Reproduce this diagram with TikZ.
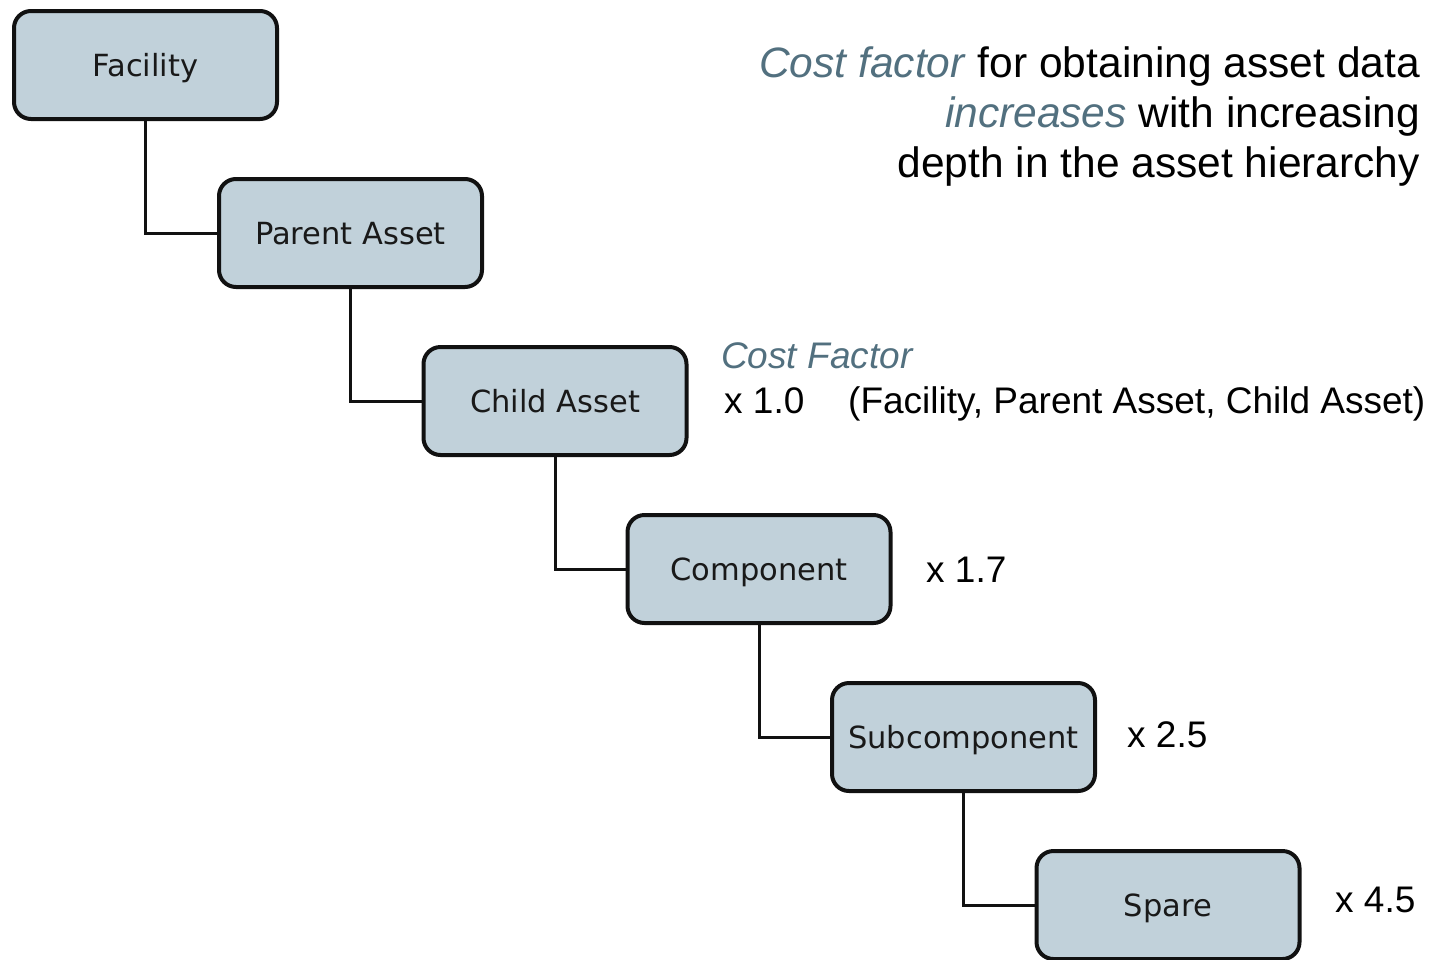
\documentclass[tikz,border=0pt]{standalone}
\usepackage{fontspec}
\setmainfont{Liberation Sans}
\newfontfamily\boxfont{DejaVu Sans}
\definecolor{boxfill}{HTML}{C1D1DA}
\definecolor{boxline}{HTML}{111111}
\definecolor{accent}{HTML}{52707F}
\begin{document}
\begin{tikzpicture}[x=1pt,y=-1pt,
  level/.style={draw=boxline, line width=4pt, fill=boxfill, rounded corners=17pt,
    minimum width=263pt, minimum height=108pt, inner sep=0pt,
    text height=22pt, text depth=0pt, text=black!90,
    font=\boxfont\fontsize{30.5}{36}\selectfont},
  link/.style={draw=boxline, line width=3pt},
  factor/.style={anchor=base west, inner sep=0pt, font=\fontsize{37}{43}\selectfont},
  note/.style={anchor=base east, inner sep=0pt, font=\fontsize{42.5}{50}\selectfont},
  hl/.style={text=accent}]
\useasboundingbox (0,0) rectangle (1429,959);

% hierarchy boxes
\node[level] (fac) at (145.5,65) {Facility};
\node[level] (par) at (350.5,233) {Parent Asset};
\node[level] (chi) at (555,401) {Child Asset};
\node[level] (com) at (759,569) {Component};
\node[level] (sub) at (963.5,737) {Subcomponent};
\node[level] (spa) at (1168,905) {Spare};

% elbow connectors
\draw[link] (fac.south) |- (par.west);
\draw[link] (par.south) |- (chi.west);
\draw[link] (chi.south) |- (com.west);
\draw[link] (com.south) |- (sub.west);
\draw[link] (sub.south) |- (spa.west);

% explanatory note
\node[note] (n1) at (1420,77) {\textcolor{accent}{\textit{Cost factor}} for obtaining asset data};
\node[note] (n2) at (1420,127) {\textcolor{accent}{\textit{increases}} with increasing};
\node[note] (n3) at (1420,177) {depth in the asset hierarchy};

% cost factors
\node[factor, hl] (cfh) at (721,368) {\textit{Cost Factor}};
\node[factor] (f1) at (724,413) {x 1.0};
\node[factor] (f1n) at (848,413) {(Facility, Parent Asset, Child Asset)};
\node[factor] (f2) at (926,582) {x 1.7};
\node[factor] (f3) at (1127,747) {x 2.5};
\node[factor] (f4) at (1335,912) {x 4.5};
\end{tikzpicture}
\end{document}
